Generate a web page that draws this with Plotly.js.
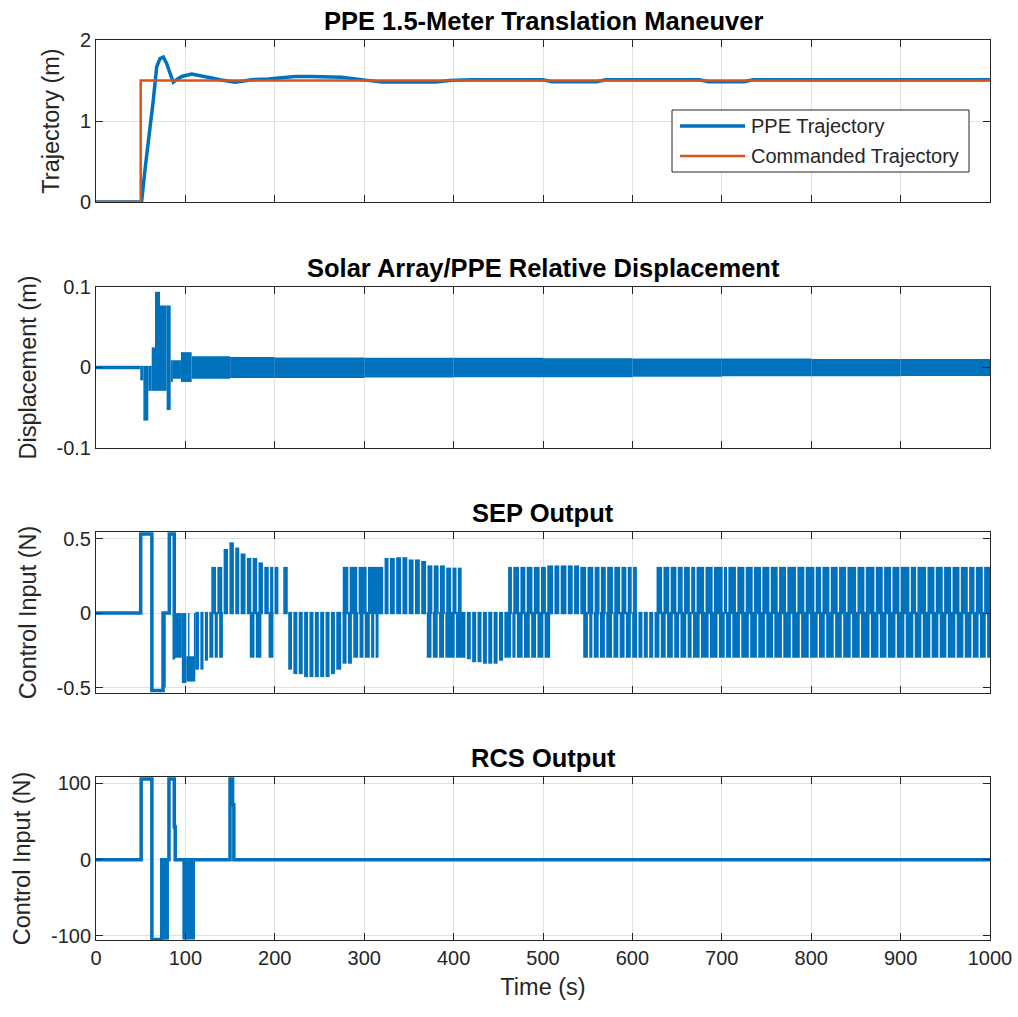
<!DOCTYPE html>
<html><head><meta charset="utf-8">
<script src="https://cdn.plot.ly/plotly-3.0.1.min.js"></script>
<style>html,body{margin:0;padding:0;background:#fff}#plot{width:1018px;height:1017px}</style>
</head><body><div id="plot"></div>
<script>
// ---------------- DATA ----------------
const xTicks = [0, 100, 200, 300, 400, 500, 600, 700, 800, 900, 1000];

// Panel 1: trajectory (m)
const trajT = [0, 51, 54.8, 60.4, 64.1, 67.9, 71.6, 75.3, 79, 82.8, 86.5, 90.2, 95.8, 107, 118, 129.4, 138.7, 148, 155.5, 163, 174, 192.7, 207.7, 222.6, 241, 259.9, 274.8, 290, 305, 320, 380, 395, 420, 500, 510, 560, 570, 675, 685, 725, 735, 1000];
const trajV = [0, 0, 0.40, 0.89, 1.26, 1.67, 1.77, 1.79, 1.71, 1.59, 1.48, 1.51, 1.55, 1.58, 1.56, 1.53, 1.51, 1.49, 1.48, 1.49, 1.51, 1.52, 1.53, 1.55, 1.55, 1.55, 1.54, 1.52, 1.50, 1.48, 1.48, 1.50, 1.51, 1.51, 1.485, 1.485, 1.51, 1.51, 1.485, 1.485, 1.51, 1.51];
const cmdT = [0, 50, 1000];
const cmdV = [0, 1.5, 1.5];

// Panel 2: relative displacement (m)
const dispT = [0, 49.5];
const dispV = [0, 0];
const dispBlkT0 = [49.5, 53, 58.5, 62.3, 66, 71.6, 79, 83.5, 86, 95, 107, 150, 200, 300, 400, 500, 600, 700, 800, 900];
const dispBlkT1 = [53, 58.5, 62.3, 66, 71.6, 79, 83.5, 86, 95, 107, 150, 200, 300, 400, 500, 600, 700, 800, 900, 1000];
const dispBlkHi = [0.002, 0.002, 0.002, 0.025, 0.094, 0.077, 0.077, 0.009, 0.009, 0.019, 0.014, 0.013, 0.0125, 0.012, 0.012, 0.0115, 0.011, 0.011, 0.0105, 0.0105];
const dispBlkLo = [-0.016, -0.066, -0.029, -0.029, -0.029, -0.029, -0.053, -0.018, -0.014, -0.018, -0.014, -0.013, -0.013, -0.0125, -0.012, -0.012, -0.0115, -0.011, -0.011, -0.0105];

// Panel 3: SEP output (N)
const sepT = [0, 50, 62.5, 75, 82, 87.5, 88.5];
const sepV = [0, 0.53, -0.52, 0, 0.53, -0.3, -0.3];
const sepOddT0 = [75, 88, 96, 101, 103, 109.5];
const sepOddT1 = [78, 96, 101, 111, 104.5, 111];
const sepOddHi = [0, 0, 0, -0.29, 0, 0];
const sepOddLo = [-0.50, -0.30, -0.47, -0.46, -0.44, -0.42];
// upper half (0 .. top) chatter regions
const sepUpT0 = [129, 209.5, 276, 461, 627];
const sepUpT1 = [204, 214.5, 409, 605, 1000];
const sepUpEnvT = [129, 142, 148, 156, 162, 170, 178, 186, 276, 316, 322, 335, 350, 362, 372, 390, 461, 508, 545, 627];
const sepUpEnvV = [0.31, 0.43, 0.475, 0.44, 0.40, 0.37, 0.34, 0.31, 0.31, 0.35, 0.37, 0.375, 0.36, 0.35, 0.32, 0.305, 0.31, 0.32, 0.31, 0.31];
const sepUpSlits = [135, 142, 148.5, 155, 161, 168, 174.5, 181, 187.5, 194, 199,
  283, 293, 303.5, 322, 328, 335, 342, 349, 356, 363, 370, 377, 384, 391, 398, 404,
  466, 474, 481, 489, 497, 504, 512, 519, 527, 534, 541, 549, 557, 564, 571, 579, 587, 594, 600,
  634, 642, 650, 657, 665, 671, 681, 690.5, 701.7, 706.6, 716.6, 726, 735.3, 744.6, 754, 763.3, 772.6, 783.8, 793.1, 804.3, 811.8, 821.1, 830.4, 839.8, 851, 860.3, 871.5, 880.8, 890.1, 899.4, 910.6, 918.1, 929.3, 938.6, 947.9, 957.3, 966.6, 975.9, 983.4, 992.7];
// lower half (bottom .. 0) chatter regions
const sepLoT0 = [111, 172, 193, 215, 370, 545];
const sepLoT1 = [142, 185, 198.5, 316, 508, 1000];
const sepLoEnvT = [111, 122, 129, 172, 193, 215, 222, 234, 260, 267, 277, 290, 370, 409, 418, 433, 448, 459, 545];
const sepLoEnvV = [-0.38, -0.32, -0.30, -0.30, -0.30, -0.38, -0.41, -0.43, -0.41, -0.38, -0.34, -0.30, -0.30, -0.31, -0.33, -0.34, -0.32, -0.30, -0.30];
const sepLoSlits = [116, 121, 126, 132, 137, 178,
  220, 226, 232, 238, 244, 250, 256, 262, 268, 275, 281, 287, 294, 300, 307, 312,
  376, 383, 390, 402, 414, 420, 426, 432, 438, 444, 450, 456, 465, 470, 478, 486, 493, 501,
  551, 556, 563, 570, 578, 585, 592, 599, 606, 612, 618, 624, 631, 638, 646, 653, 661, 667, 676, 686, 696, 704, 711, 721, 731, 740, 749, 758, 768, 778, 788, 798, 808, 816, 826, 835, 845, 855, 866, 876, 885, 895, 905, 915, 924, 934, 943, 952, 962, 971, 980, 988, 996];

// Panel 4: RCS output (N)
const rcsT = [0, 50.5, 62.5, 73.5, 81.6, 87.6, 88.6, 149.9, 152.8, 154.2, 1000];
const rcsV = [0, 106, -105, 0, 106, 43, 0, 106, 72, 0, 0];
const rcsBlkT0 = [73.5, 96.6];
const rcsBlkT1 = [81.6, 110.7];
const rcsBlkHi = [0, 0];
const rcsBlkLo = [-105, -105];

// ---------------- BUILD ----------------
const BLUE = '#0072BD', ORANGE = '#D95319';
const SLIT = 1.5;

function envAt(envT, envV, t) {
  let v = envV[0];
  for (let i = 0; i < envT.length; i++) if (envT[i] <= t) v = envV[i];
  return v;
}
function splitBlocks(r0, r1, slits, envT, envV, isUpper) {
  const t0 = [], t1 = [], hi = [], lo = [];
  for (let r = 0; r < r0.length; r++) {
    let cur = r0[r];
    const inside = slits.filter(s => s > r0[r] && s < r1[r]).sort((a, b) => a - b);
    const ends = [];
    inside.forEach(s => { ends.push([cur, s - SLIT / 2]); cur = s + SLIT / 2; });
    ends.push([cur, r1[r]]);
    ends.forEach(([a, b]) => {
      if (b <= a) return;
      const v = envAt(envT, envV, (a + b) / 2);
      t0.push(a); t1.push(b);
      if (isUpper) { hi.push(v); lo.push(-0.008); } else { hi.push(0.008); lo.push(v); }
    });
  }
  return {t0, t1, hi, lo};
}
// chatter blocks drawn as floating bars (base = low level, height = span)
function barTrace(t0, t1, hi, lo, xa, ya) {
  return {type: 'bar', xaxis: xa, yaxis: ya,
    x: t0.map((a, i) => (a + t1[i]) / 2), width: t0.map((a, i) => t1[i] - a),
    base: lo, y: hi.map((h, i) => h - lo[i]),
    marker: {color: BLUE, line: {width: 0}}, hoverinfo: 'skip', showlegend: false};
}

const up = splitBlocks(sepUpT0, sepUpT1, sepUpSlits, sepUpEnvT, sepUpEnvV, true);
const lo = splitBlocks(sepLoT0, sepLoT1, sepLoSlits, sepLoEnvT, sepLoEnvV, false);
const sepAll = {
  t0: sepOddT0.concat(up.t0, lo.t0), t1: sepOddT1.concat(up.t1, lo.t1),
  hi: sepOddHi.concat(up.hi, lo.hi), lo: sepOddLo.concat(up.lo, lo.lo)
};

const traces = [
  {x: trajT, y: trajV, xaxis: 'x', yaxis: 'y', type: 'scatter', mode: 'lines', line: {color: BLUE, width: 3.5}, name: 'PPE Trajectory', showlegend: false},
  {x: cmdT, y: cmdV, xaxis: 'x', yaxis: 'y', type: 'scatter', mode: 'lines', line: {color: ORANGE, width: 2.5, shape: 'hv'}, name: 'Commanded Trajectory', showlegend: false},
  barTrace(dispBlkT0, dispBlkT1, dispBlkHi, dispBlkLo, 'x2', 'y2'),
  {x: dispT, y: dispV, xaxis: 'x2', yaxis: 'y2', type: 'scatter', mode: 'lines', line: {color: BLUE, width: 3.5}, showlegend: false},
  barTrace(sepAll.t0, sepAll.t1, sepAll.hi, sepAll.lo, 'x3', 'y3'),
  {x: sepT, y: sepV, xaxis: 'x3', yaxis: 'y3', type: 'scatter', mode: 'lines', line: {color: BLUE, width: 3.5, shape: 'hv'}, showlegend: false},
  barTrace(rcsBlkT0, rcsBlkT1, rcsBlkHi, rcsBlkLo, 'x4', 'y4'),
  {x: rcsT, y: rcsV, xaxis: 'x4', yaxis: 'y4', type: 'scatter', mode: 'lines', line: {color: BLUE, width: 3.5, shape: 'hv'}, showlegend: false}
];

const FONT = 'Liberation Sans, Arial, Helvetica, sans-serif';
const AX = '#262626';
function xax(anchor, labels) {
  return {anchor: anchor, domain: [0, 1], range: [0, 1000], tickvals: xTicks, showticklabels: labels,
    showgrid: true, gridcolor: '#e2e2e2', gridwidth: 1, zeroline: false,
    showline: true, linecolor: AX, linewidth: 1, mirror: 'ticks', ticks: 'inside', ticklen: 7, tickcolor: AX,
    tickfont: {size: 20, color: AX, family: FONT}};
}
function yax(anchor, dom, range, tv, tt, title) {
  return {anchor: anchor, domain: dom, range: range, tickvals: tv, ticktext: tt,
    showgrid: true, gridcolor: '#e2e2e2', gridwidth: 1, zeroline: false,
    showline: true, linecolor: AX, linewidth: 1, mirror: 'ticks', ticks: 'inside', ticklen: 7, tickcolor: AX,
    tickfont: {size: 20, color: AX, family: FONT},
    title: {text: title, font: {size: 23.5, color: AX, family: FONT}, standoff: 13}};
}
const doms = [[0.82, 1], [0.5467, 0.7256], [0.2744, 0.4533], [0, 0.1811]];
const titles = ['PPE 1.5-Meter Translation Maneuver', 'Solar Array/PPE Relative Displacement', 'SEP Output', 'RCS Output'];

const xa4 = xax('y4', true);
xa4.title = {text: 'Time (s)', font: {size: 23.5, color: AX, family: FONT}, standoff: 10};

const lx = v => (v - 96) / 894, ly = v => (940 - v) / 900;
const layout = {
  width: 1018, height: 1017,
  margin: {l: 96, r: 28, t: 40, b: 77, pad: 0},
  paper_bgcolor: '#ffffff', plot_bgcolor: '#ffffff',
  font: {family: FONT, color: AX},
  showlegend: false, barmode: 'overlay',
  xaxis: xax('y', false), xaxis2: xax('y2', false), xaxis3: xax('y3', false), xaxis4: xa4,
  yaxis: yax('x', doms[0], [0, 2], [0, 1, 2], ['0', '1', '2'], 'Trajectory (m)'),
  yaxis2: yax('x2', doms[1], [-0.1, 0.1], [-0.1, 0, 0.1], ['-0.1', '0', '0.1'], 'Displacement (m)'),
  yaxis3: yax('x3', doms[2], [-0.537, 0.544], [-0.5, 0, 0.5], ['-0.5', '0', '0.5'], 'Control Input (N)'),
  yaxis4: yax('x4', doms[3], [-105.5, 108.5], [-100, 0, 100], ['-100', '0', '100'], 'Control Input (N)'),
  annotations: titles.map((t, i) => ({text: '<b>' + t + '</b>', xref: 'paper', yref: 'paper', x: 0.5, y: doms[i][1],
    xanchor: 'center', yanchor: 'bottom', yshift: 3, showarrow: false, font: {size: 25.5, color: '#000', family: FONT}}))
    .concat([
      {text: 'PPE Trajectory', xref: 'paper', yref: 'paper', x: lx(749), y: ly(126), xanchor: 'left', yanchor: 'middle', showarrow: false, font: {size: 20, color: AX, family: FONT}},
      {text: 'Commanded Trajectory', xref: 'paper', yref: 'paper', x: lx(749), y: ly(156), xanchor: 'left', yanchor: 'middle', showarrow: false, font: {size: 20, color: AX, family: FONT}}
    ]),
  shapes: [
    {type: 'rect', xref: 'paper', yref: 'paper', x0: lx(672), x1: lx(969), y0: ly(172), y1: ly(110), line: {color: AX, width: 1}, fillcolor: '#ffffff', layer: 'above'},
    {type: 'line', xref: 'paper', yref: 'paper', x0: lx(680), x1: lx(745), y0: ly(126), y1: ly(126), line: {color: BLUE, width: 3.5}, layer: 'above'},
    {type: 'line', xref: 'paper', yref: 'paper', x0: lx(680), x1: lx(745), y0: ly(156), y1: ly(156), line: {color: ORANGE, width: 2.5}, layer: 'above'}
  ]
};

Plotly.newPlot('plot', traces, layout, {staticPlot: true, displayModeBar: false});
</script></body></html>
